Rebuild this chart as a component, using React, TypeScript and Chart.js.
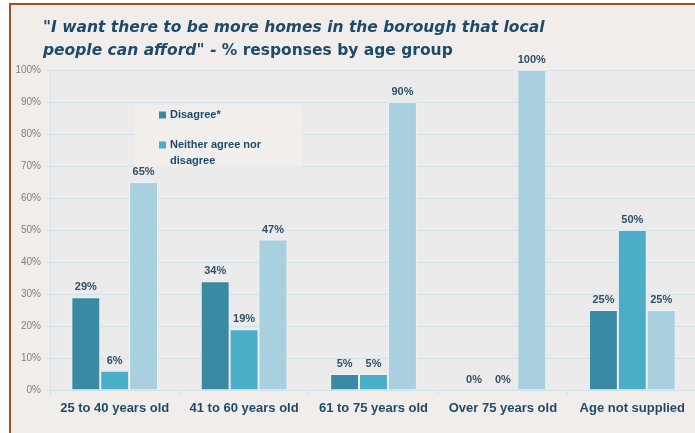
import React, { useEffect, useRef } from "react";
import { Chart, registerables } from "chart.js";

Chart.register(...registerables);

const categories = ["25 to 40 years old", "41 to 60 years old", "61 to 75 years old", "Over 75 years old", "Age not supplied"];
const disagree = [29, 34, 5, 0, 25];
const neither = [6, 19, 5, 0, 50];
const agree = [65, 47, 90, 100, 25];
const seriesLabels = ["Disagree*", "Neither agree nor disagree", "Agree"];
const legendLines = [["Disagree*"], ["Neither agree nor", "disagree"]];
const yTickValues = [0, 10, 20, 30, 40, 50, 60, 70, 80, 90, 100];

const FONT = "'Liberation Sans', Arial, sans-serif";
const TITLE_FONT = "'DejaVu Sans', sans-serif";
const TEXT_DARK = "#1f4b6b";

const plotBg = {
  id: "plotBg",
  beforeDraw(chart: any) {
    const { ctx, chartArea } = chart;
    ctx.save();
    ctx.fillStyle = "#ebebeb";
    ctx.fillRect(chartArea.left, chartArea.top, chartArea.right - chartArea.left, chartArea.bottom - chartArea.top);
    ctx.restore();
  },
};

const dataLabels = {
  id: "dataLabels",
  afterDatasetsDraw(chart: any) {
    const { ctx } = chart;
    ctx.save();
    ctx.font = `bold 11px ${FONT}`;
    ctx.fillStyle = "#2f5068";
    ctx.textAlign = "center";
    ctx.textBaseline = "middle";
    chart.data.datasets.forEach((ds: any, i: number) => {
      const meta = chart.getDatasetMeta(i);
      meta.data.forEach((bar: any, j: number) => {
        ctx.fillText(ds.data[j] + "%", bar.x, bar.y - 10);
      });
    });
    ctx.restore();
  },
};

const customLegend = {
  id: "customLegend",
  afterDraw(chart: any) {
    const { ctx } = chart;
    ctx.save();
    ctx.fillStyle = "rgba(242,238,236,0.85)";
    ctx.fillRect(135, 105, 167, 62);
    ctx.font = `bold 11px ${FONT}`;
    ctx.textBaseline = "middle";
    ctx.textAlign = "left";
    const rows = [115, 145];
    legendLines.forEach((lines, i) => {
      const ds = chart.data.datasets[i];
      ctx.fillStyle = ds.backgroundColor;
      ctx.fillRect(159, rows[i] - 3.5, 7, 7);
      ctx.fillStyle = TEXT_DARK;
      lines.forEach((t, k) => ctx.fillText(t, 170, rows[i] + k * 16));
    });
    ctx.restore();
  },
};

export default function App() {
  const ref = useRef<HTMLCanvasElement>(null);
  useEffect(() => {
    const colors = ["#3b8aa3", "#4aaec8", "#a8d0df"];
    const chart = new Chart(ref.current!, {
      type: "bar",
      data: {
        labels: categories,
        datasets: [disagree, neither, agree].map((d, i) => ({
          label: seriesLabels[i],
          data: d,
          backgroundColor: colors[i],
          borderColor: "rgba(255,255,255,0.3)",
          borderWidth: 1,
          categoryPercentage: 0.67,
          barPercentage: 1,
        })),
      },
      options: {
        animation: false,
        responsive: false,
        layout: { padding: { left: 0, right: 3, top: 70, bottom: 0 } },
        plugins: { legend: { display: false }, tooltip: { enabled: false } },
        scales: {
          x: {
            grid: { drawOnChartArea: false, tickLength: 5, color: "#d3e2ea" },
            border: { color: "#d3e2ea" },
            ticks: { font: { family: FONT, size: 13, weight: "bold" }, color: TEXT_DARK, padding: 6, maxRotation: 0 },
            afterFit: (s: any) => { s.height = 43; },
          },
          y: {
            min: 0,
            max: 100,
            afterBuildTicks: (s: any) => { s.ticks = yTickValues.map((v) => ({ value: v })); },
            grid: { color: "#d3e2ea", tickLength: 4 },
            border: { color: "#d3e2ea" },
            ticks: { font: { family: FONT, size: 10 }, color: "#7f7f7f", padding: 5, callback: (v: any) => v + "%" },
            afterFit: (s: any) => { s.width = 50; },
          },
        },
      },
      plugins: [plotBg, dataLabels, customLegend],
    });
    return () => chart.destroy();
  }, []);

  return (
    <div style={{ position: "absolute", left: 0, top: 0, width: 695, height: 433, overflow: "hidden", background: "#ffffff" }}>
      <div style={{ position: "absolute", left: 9, top: 3, right: -10, bottom: -10, borderTop: "2px solid #96541f", borderLeft: "2px solid #96541f", background: "#f1edeb" }} />
      <canvas ref={ref} width={700} height={433} style={{ position: "absolute", left: 0, top: 0, width: 700, height: 433 }} />
      <div style={{ position: "absolute", left: 43, top: 16, fontFamily: TITLE_FONT, fontWeight: "bold", fontSize: 15.5, lineHeight: "23px", color: TEXT_DARK, whiteSpace: "nowrap" }}>
        <div style={{ fontStyle: "italic" }}>"I want there to be more homes in the borough that local</div>
        <div><span style={{ fontStyle: "italic" }}>people can afford"</span> - % responses by age group</div>
      </div>
    </div>
  );
}
